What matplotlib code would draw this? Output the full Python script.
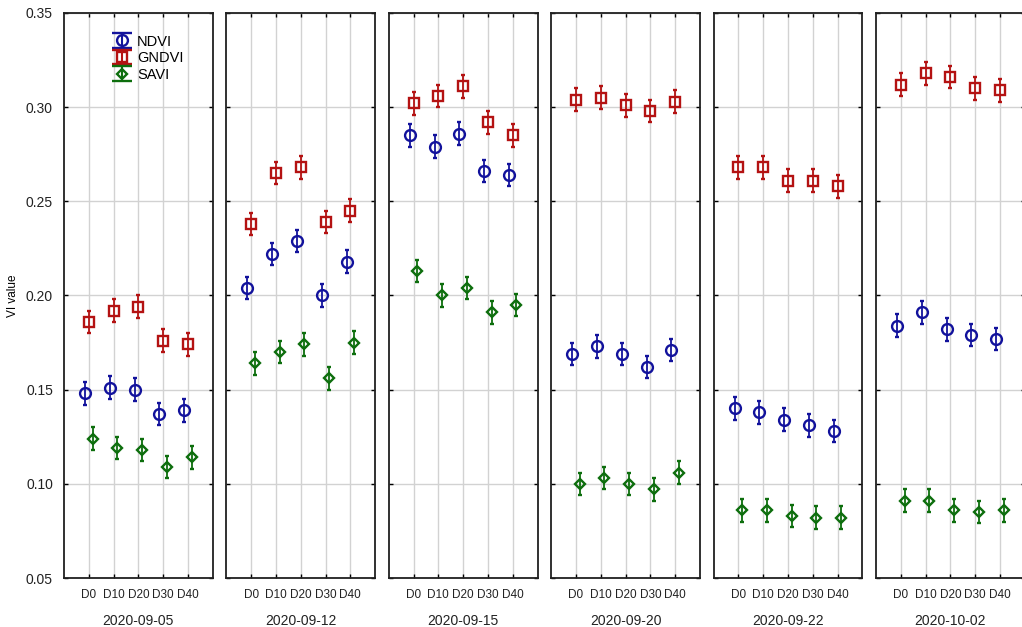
import numpy as np
import matplotlib.pyplot as plt

plt.rcParams['font.family'] = ['Liberation Sans', 'DejaVu Sans']

dates = ['2020-09-05', '2020-09-12', '2020-09-15', '2020-09-20', '2020-09-22', '2020-10-02']
days = ['D0', 'D10', 'D20', 'D30', 'D40']

ndvi = [
    [0.148, 0.151, 0.150, 0.137, 0.139],
    [0.204, 0.222, 0.229, 0.200, 0.218],
    [0.285, 0.279, 0.286, 0.266, 0.264],
    [0.169, 0.173, 0.169, 0.162, 0.171],
    [0.140, 0.138, 0.134, 0.131, 0.128],
    [0.184, 0.191, 0.182, 0.179, 0.177],
]
gndvi = [
    [0.186, 0.192, 0.194, 0.176, 0.174],
    [0.238, 0.265, 0.268, 0.239, 0.245],
    [0.302, 0.306, 0.311, 0.292, 0.285],
    [0.304, 0.305, 0.301, 0.298, 0.303],
    [0.268, 0.268, 0.261, 0.261, 0.258],
    [0.312, 0.318, 0.316, 0.310, 0.309],
]
savi = [
    [0.124, 0.119, 0.118, 0.109, 0.114],
    [0.164, 0.170, 0.174, 0.156, 0.175],
    [0.213, 0.200, 0.204, 0.191, 0.195],
    [0.100, 0.103, 0.100, 0.097, 0.106],
    [0.086, 0.086, 0.083, 0.082, 0.082],
    [0.091, 0.091, 0.086, 0.085, 0.086],
]
err = 0.006

series = [
    ('NDVI', ndvi, '#12129c', 'o', 7.8, -0.15),
    ('GNDVI', gndvi, '#b41212', 's', 7.5, 0.0),
    ('SAVI', savi, '#0d6e0d', 'D', 5.2, 0.15),
]

fig = plt.figure(figsize=(10.22, 6.27), dpi=100)
W, H = 1022, 627
x = np.arange(len(days))

for i, d in enumerate(dates):
    left = 64 + i * 162.4
    ax = fig.add_axes([left / W, 49 / H, 148.7 / W, 565 / H])
    handles = []
    for name, data, col, mk, ms, off in series:
        ax.errorbar(x + off, data[i], yerr=err, fmt=mk, ms=ms, mfc='none',
                    mec=col, mew=1.7, ecolor=col, elinewidth=1.3, capsize=1.2,
                    capthick=1.3, color=col, zorder=3)
        # legend proxy with wide caps
        h = ax.errorbar([np.nan], [np.nan], yerr=err, fmt=mk, ms=ms, mfc='none',
                        mec=col, mew=1.7, ecolor=col, elinewidth=1.5,
                        capsize=7.5, capthick=1.8, color=col, label=name)
        handles.append(h)
    ax.set_xlim(-1, 5)
    ax.set_ylim(0.05, 0.35)
    ax.set_xticks(x)
    ax.set_xticklabels(days, fontsize=8.5)
    ax.set_yticks(np.arange(0.05, 0.351, 0.05))
    ax.grid(True, color='#d2d2d2', linewidth=1.0, zorder=0)
    ax.tick_params(direction='in', top=True, right=True, length=3, width=1,
                   labelsize=10, pad=8, labelcolor='#222222')
    ax.tick_params(axis='x', labelsize=8.5)
    for sp in ax.spines.values():
        sp.set_linewidth(1.3)
        sp.set_color('#202020')
    ax.set_xlabel(d, fontsize=10, labelpad=9, color='#222222')
    if i == 0:
        ax.set_ylabel('VI value', fontsize=8.5, labelpad=5)
        ax.yaxis.set_major_formatter(plt.FuncFormatter(lambda v, p: f'{v:.2f}'))
        ax.legend(handles=handles, loc='upper left', bbox_to_anchor=(0.25, 0.98),
                  frameon=False, fontsize=10.5, handlelength=1.4,
                  handletextpad=0.35, labelspacing=0.18, borderpad=0.2)
    else:
        ax.tick_params(labelleft=False)

fig.savefig('out.png', dpi=100)
